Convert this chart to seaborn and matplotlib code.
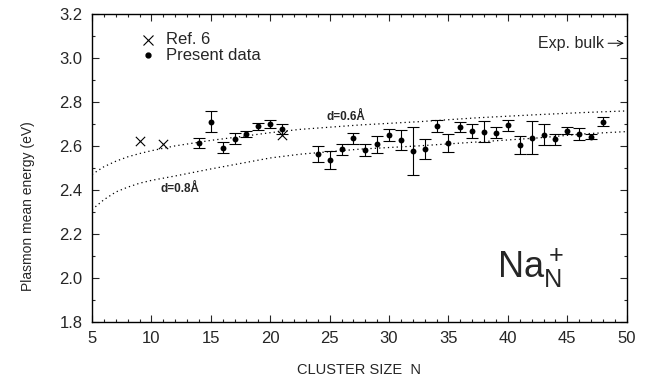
import matplotlib
matplotlib.use("Agg")
import matplotlib.pyplot as plt
import seaborn as sns
import pandas as pd
from matplotlib.ticker import MultipleLocator

# ---- data ----
n_present = [14, 15, 16, 17, 18, 19, 20, 21,
             24, 25, 26, 27, 28, 29, 30, 31, 32, 33,
             34, 35, 36, 37, 38, 39, 40, 41, 42, 43,
             44, 45, 46, 47, 48]
e_present = [2.612, 2.710, 2.592, 2.632, 2.654, 2.689, 2.700, 2.677,
             2.564, 2.536, 2.585, 2.634, 2.580, 2.607, 2.650, 2.627, 2.578, 2.584,
             2.691, 2.612, 2.686, 2.668, 2.665, 2.660, 2.693, 2.604, 2.638, 2.650,
             2.629, 2.669, 2.654, 2.642, 2.710]
err_present = [0.023, 0.048, 0.025, 0.025, 0.015, 0.017, 0.017, 0.021,
               0.036, 0.042, 0.025, 0.026, 0.027, 0.039, 0.027, 0.044, 0.110, 0.045,
               0.027, 0.042, 0.023, 0.032, 0.047, 0.025, 0.024, 0.040, 0.076, 0.048,
               0.023, 0.016, 0.027, 0.013, 0.021]

n_ref6 = [9, 11, 21]
e_ref6 = [2.620, 2.607, 2.649]

n_curve = [5, 6, 7, 8, 9, 10, 12, 15, 17.5, 20, 22.5, 27.5, 32.5, 37.5, 42.5, 46.5, 50]
e_d06 = [2.47, 2.505, 2.53, 2.55, 2.565, 2.578, 2.60, 2.625, 2.642, 2.66, 2.675,
         2.695, 2.71, 2.728, 2.742, 2.752, 2.759]
e_d08 = [2.31, 2.355, 2.39, 2.412, 2.43, 2.443, 2.463, 2.495, 2.52, 2.545, 2.562,
         2.585, 2.60, 2.618, 2.636, 2.655, 2.665]

exp_bulk = 3.067

# ---- style ----
sns.set_style("ticks")
plt.rcParams["font.family"] = ["Liberation Sans", "DejaVu Sans"]
plt.rcParams["mathtext.fontset"] = "custom"
plt.rcParams["mathtext.rm"] = "Liberation Sans"

fig = plt.figure(figsize=(6.45, 3.77), dpi=100)
ax = fig.add_axes([92 / 645, 1 - 321.7 / 377, (626.7 - 92) / 645, (321.7 - 14) / 377])

curves = pd.DataFrame({"N": n_curve, "d06": e_d06, "d08": e_d08})
for col in ["d06", "d08"]:
    sns.lineplot(data=curves, x="N", y=col, ax=ax, color="black", lw=0.9,
                 linestyle=(0, (1, 2.5)))

ax.errorbar(n_present, e_present, yerr=err_present, fmt="none", ecolor="black",
            elinewidth=0.8, capsize=4, capthick=0.8, zorder=3)
pres = pd.DataFrame({"N": n_present, "E": e_present})
sns.scatterplot(data=pres, x="N", y="E", ax=ax, color="black", s=18,
                edgecolor="black", linewidth=0, zorder=4)
ref = pd.DataFrame({"N": n_ref6, "E": e_ref6})
sns.scatterplot(data=ref, x="N", y="E", ax=ax, marker="x", color="black", s=45,
                linewidth=0.8, zorder=4)

ax.set_xlim(5, 50)
ax.set_ylim(1.8, 3.2)
ax.xaxis.set_major_locator(MultipleLocator(5))
ax.xaxis.set_minor_locator(MultipleLocator(1))
ax.yaxis.set_major_locator(MultipleLocator(0.2))
ax.yaxis.set_minor_locator(MultipleLocator(0.1))
ax.yaxis.set_major_formatter(matplotlib.ticker.FormatStrFormatter("%.1f"))
ax.tick_params(which="both", direction="in", top=True, right=True, width=0.8,
               labelsize=12, pad=7)
ax.tick_params(which="major", length=5)
ax.tick_params(which="minor", length=2.5)
for s in ax.spines.values():
    s.set_linewidth(1.0)
    s.set_color("black")

ax.set_xlabel("CLUSTER SIZE  N", fontsize=10.5, labelpad=12)
ax.set_ylabel("Plasmon mean energy (eV)", fontsize=10)
ax.yaxis.set_label_coords(-0.107, 0.375)

# legend (drawn manually to match)
ax.plot([9.75], [3.082], marker="x", color="black", ms=7, mew=0.8, ls="none")
ax.text(11.25, 3.082, "Ref. 6", fontsize=12, va="center", ha="left")
ax.plot([9.75], [3.013], marker="o", color="black", ms=3.5, ls="none")
ax.text(11.25, 3.013, "Present data", fontsize=12, va="center", ha="left")

ax.text(26.4, 2.733, "d=0.6Å", fontsize=8.5, fontweight="bold", ha="center", va="center")
ax.text(12.4, 2.405, "d=0.8Å", fontsize=8.5, fontweight="bold", ha="center", va="center")

ax.annotate("", xy=(50, exp_bulk), xytext=(48.2, exp_bulk),
            arrowprops=dict(arrowstyle="->", color="black", lw=0.7))
ax.text(48.1, exp_bulk, "Exp. bulk", fontsize=11.5, ha="right", va="center")

ax.text(41.9, 2.045, r"$\mathregular{Na_N^+}$", fontsize=26, ha="center", va="center")

fig.savefig("out.png", dpi=100)
